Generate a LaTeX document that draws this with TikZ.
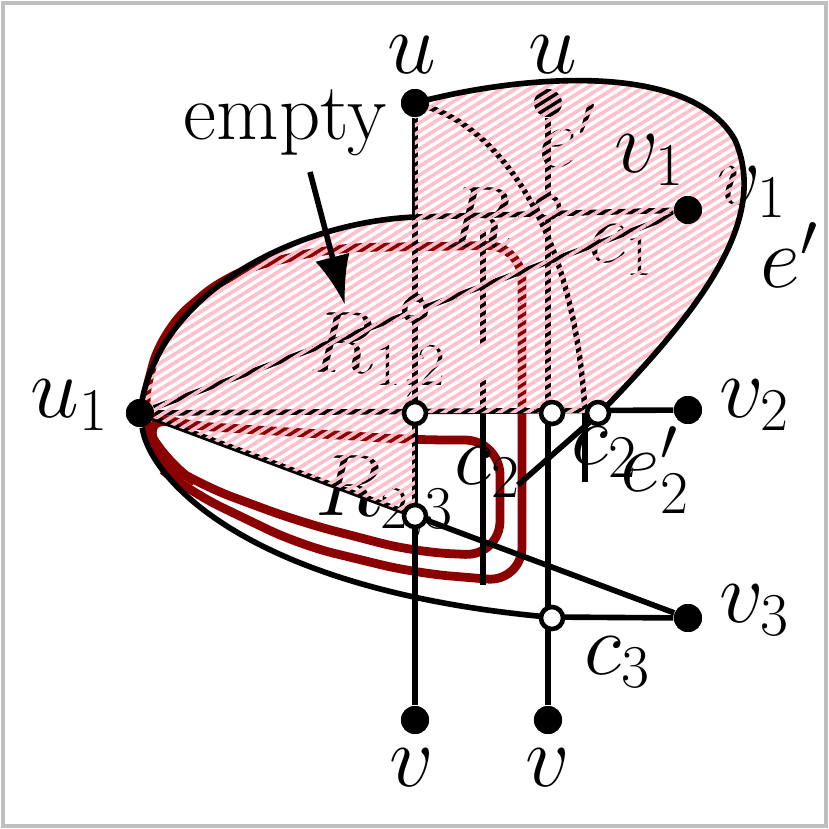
\documentclass[tikz,border=0pt]{standalone}
\usetikzlibrary{patterns.meta,arrows.meta}
\definecolor{dred}{HTML}{8B0000}
\definecolor{hpink}{HTML}{FFC0CB}
\begin{document}
\begin{tikzpicture}[x=0.01cm,y=-0.01cm,
  ln/.style={line width=1.6pt},
  rd/.style={draw=dred,line width=2.5pt,rounded corners=10},
  dot/.style={circle,fill=black,inner sep=0pt,minimum size=0.28cm},
  odot/.style={circle,fill=white,draw=black,line width=1.3pt,inner sep=0pt,minimum size=0.22cm},
  lab/.style={font=\fontsize{23}{26}\selectfont,inner sep=0pt}]
\fill[white] (0,0) rectangle (829,829);
\draw[gray!50,line width=1.3pt] (3,3) rectangle (826,826);
\useasboundingbox (0,0) rectangle (829,829);
% nodes
\node[dot] (u1) at (140,413) {};
\node[dot] (u) at (415,103) {};
\node[dot] (v) at (415,720) {};
\node[dot] (up) at (548,103) {};
\node[dot] (vp) at (548,720) {};
\node[dot] (v1) at (688,210) {};
\node[dot] (v2) at (688,410) {};
\node[dot] (v3) at (688,618) {};
\coordinate (t) at (415,217);
% red paths
\draw[rd] (140,413) -- (160,468) -- (190,492) -- (300,545) -- (415,573) -- (522,582) -- (522,245) -- (330,248) -- (230,272) -- (162,330) -- cycle;
\draw[rd] (140,413) -- (165,463) -- (200,485) -- (300,522) -- (415,552) -- (500,556) -- (500,440) -- (415,440) -- (180,425) -- cycle;
% black lines
\draw[ln] (u) -- (v);
\draw[ln] (up) -- (vp);
\draw[ln] (u1) -- (v2);
\draw[ln] (u1) -- (v1);
\draw[ln] (u1) -- (v3);
\draw[ln] (t) -- (v1);
\draw[ln] (483,230) -- (483,345);
\draw[ln] (483,380) -- (483,585);
\draw[ln] (585,413) -- (585,482);
\draw[ln] (u) .. controls (500,130) and (575,230) .. (585,413);
\draw[ln] (u1) .. controls (150,480) and (250,590) .. (548,617) -- (v3);
\draw[ln] (518,485) -- (592,420);
% hidden small circles
\node[odot] at (415,310) {};
\node[odot] at (548,207) {};
% hidden labels
\node[lab] at (568,135) {$e'$};
\node[lab] at (752,192) {$v_1$};
\node[lab] at (622,250) {$c_1$};
\node[lab] at (478,218) {$R$};
\node[lab] at (378,355) {$R_{1,2}$};
\node[lab] at (413,306) {\fontsize{14}{16}\selectfont$c$};
\node[lab] at (385,498) {$R_{2,3}$};
% hatch
\path[pattern={Lines[angle=32,distance=2.1pt,line width=1.05pt]},pattern color=hpink]
  (140,413) .. controls (155,290) and (300,222) .. (415,217) -- (415,103) .. controls (520,75) and (690,60) .. (735,140) .. controls (770,220) and (700,310) .. (600,413) -- (415,413) -- (415,516) -- cycle;
\draw[ln] (u1.center) .. controls (155,290) and (300,222) .. (t);
\draw[ln] (u.center) .. controls (520,75) and (690,60) .. (735,140) .. controls (770,220) and (700,310) .. (600,413);
% open circles
\node[odot] at (415,413) {};
\node[odot] at (552,413) {};
\node[odot] at (598,413) {};
\node[odot] at (552,618) {};
\node[odot] at (415,516) {};
\node[dot] at (u1) {};\node[dot] at (u) {};\node[dot] at (v) {};\node[dot] at (vp) {};
\node[dot] at (v1) {};\node[dot] at (v2) {};\node[dot] at (v3) {};
% labels
\node[lab] at (412,55) {$u$};
\node[lab] at (553,55) {$u$};
\node[lab] at (412,768) {$v$};
\node[lab] at (548,768) {$v$};
\node[lab] at (70,405) {$u_1$};
\node[lab] at (755,405) {$v_2$};
\node[lab] at (755,610) {$v_3$};
\node[lab] at (650,160) {$v_1$};
\node[lab] at (790,255) {$e'$};
\node[lab] at (488,472) {$c_2$};
\node[lab] at (605,452) {$c_2$};
\node[lab] at (655,470) {$e'_2$};
\node[lab] at (618,662) {$c_3$};
\node[lab] (em) at (285,123) {empty};
\coordinate (emt) at (345,305);
\draw[ln,-{Latex[length=14pt,width=10pt]}] (310,172) -- (emt);
\end{tikzpicture}
\end{document}
